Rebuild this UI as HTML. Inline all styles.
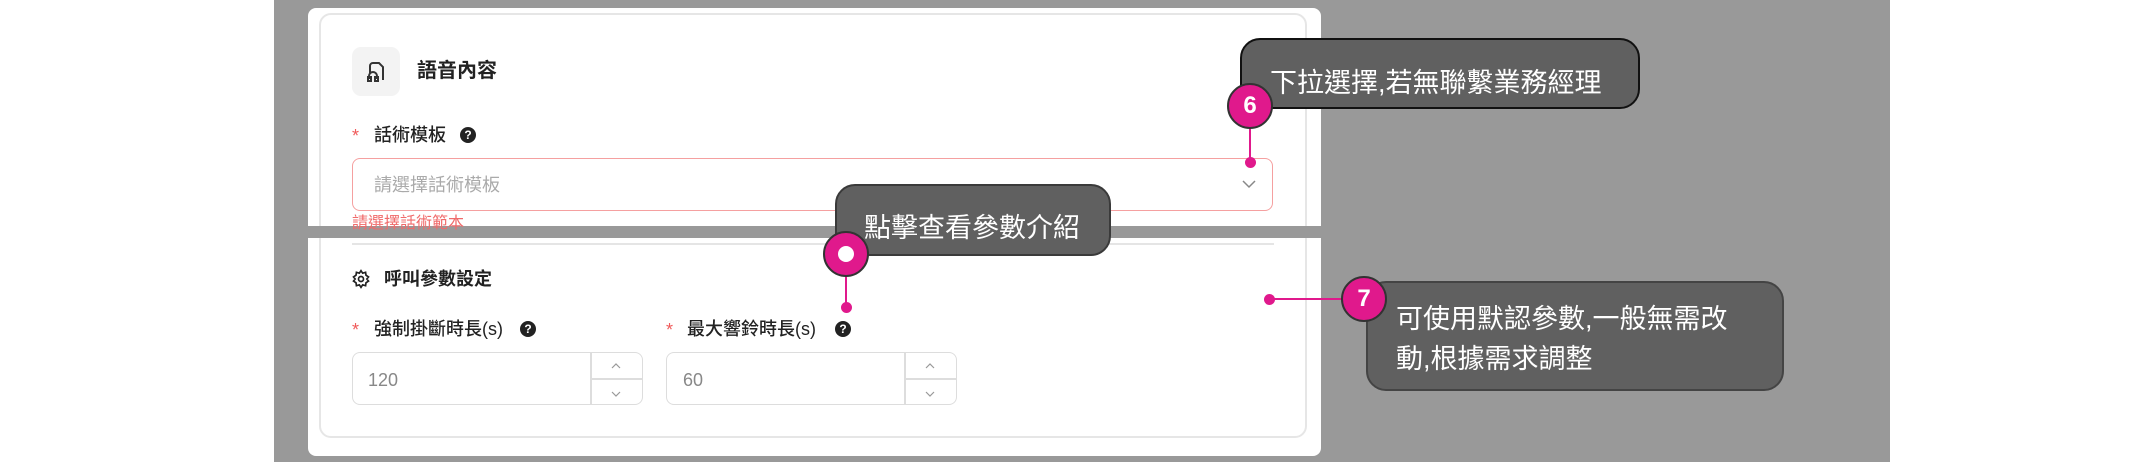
<!DOCTYPE html>
<html><head><meta charset="utf-8"><style>
*{margin:0;padding:0;box-sizing:border-box}
body{width:2148px;height:462px;position:relative;background:#fff;overflow:hidden;font-family:"Liberation Sans","Noto Sans CJK TC",sans-serif;color:#222}
.a{position:absolute}
.t{position:absolute;white-space:nowrap;line-height:1}
.q{position:absolute;width:16px;height:16px;border-radius:50%;background:#222;color:#fff;font-size:12px;font-weight:bold;text-align:center;line-height:16px}
.mk{position:absolute;width:46px;height:46px;border-radius:50%;background:#e0198c;border:2px solid #333;color:#fff;font-weight:bold;font-size:24px;text-align:center;line-height:42px}
.dot{position:absolute;width:11px;height:11px;border-radius:50%;background:#e0198c}
.tip{position:absolute;background:#606060;color:#fff;border-radius:20px;white-space:nowrap}
</style></head><body>
<div class="a" style="left:274px;top:0;width:1616px;height:462px;background:#999"></div>
<!-- white panels -->
<div class="a" style="left:308px;top:8px;width:1013px;height:218px;background:#fff;border-radius:8px 8px 0 0"></div>
<div class="a" style="left:308px;top:238px;width:1013px;height:218px;background:#fff;border-radius:0 0 8px 8px"></div>
<div class="a" style="left:319px;top:13px;width:988px;height:425px;border:2px solid #e6e6e6;border-radius:12px"></div>
<!-- top content -->
<div class="a" style="left:352px;top:47px;width:48px;height:49px;background:#f3f3f3;border-radius:9px"></div>
<svg class="a" style="left:364px;top:60px" width="24" height="24" viewBox="0 0 24 24" fill="none" stroke="#333" stroke-width="2"><path d="M6 13V6a3 3 0 0 1 3-3h6l4 4v13"/><path d="M5 19v-3a4 4 0 0 1 8 0v3"/><rect x="4" y="17" width="3" height="4"/><rect x="11" y="17" width="3" height="4"/></svg>
<div class="t" style="left:417px;top:61px;font-size:20px;font-weight:bold">語音內容</div>
<div class="t" style="left:352px;top:127px;font-size:18px;color:#f05a5a">*</div>
<div class="t" style="left:374px;top:126px;font-size:18px;font-weight:500">話術模板</div>
<div class="q" style="left:460px;top:127px">?</div>
<div class="a" style="left:352px;top:158px;width:921px;height:53px;border:1.5px solid #f5a0a0;border-radius:8px;background:#fff"></div>
<div class="t" style="left:374px;top:176px;font-size:18px;color:#aaa">請選擇話術模板</div>
<svg class="a" style="left:1241px;top:178px" width="16" height="12"><path d="M2 3l6 6 6-6" fill="none" stroke="#888" stroke-width="1.5"/></svg>
<div class="a" style="left:308px;top:226px;width:1013px;height:12px;background:#999"></div>
<div class="t" style="left:352px;top:216px;font-size:16px;color:#f06a6a">請選擇話術範本</div>
<!-- bottom content -->
<div class="a" style="left:352px;top:243px;width:922px;height:2px;background:#e5e5e5"></div>
<svg class="a" style="left:351px;top:269px" width="20" height="20" viewBox="0 0 24 24" fill="none" stroke="#222" stroke-width="2"><circle cx="12" cy="12" r="3"/><path d="M12 2l2 3 3.5-1 .5 3.5 3 2-2 2.5 2 2.5-3 2-.5 3.5-3.5-1-2 3-2-3-3.5 1-.5-3.5-3-2 2-2.5-2-2.5 3-2 .5-3.5 3.5 1z"/></svg>
<div class="t" style="left:384px;top:270px;font-size:18px;font-weight:bold">呼叫參數設定</div>
<div class="t" style="left:352px;top:321px;font-size:18px;color:#f05a5a">*</div>
<div class="t" style="left:374px;top:320px;font-size:18px;font-weight:500">強制掛斷時長(s)</div>
<div class="q" style="left:520px;top:321px">?</div>
<div class="t" style="left:666px;top:321px;font-size:18px;color:#f05a5a">*</div>
<div class="t" style="left:687px;top:320px;font-size:18px;font-weight:500">最大響鈴時長(s)</div>
<div class="q" style="left:835px;top:321px">?</div>
<div class="a" style="left:352px;top:352px;width:291px;height:53px;border:1.5px solid #ddd;border-radius:8px"></div>
<div class="a" style="left:590px;top:352px;width:1.5px;height:53px;background:#ddd"></div>
<div class="a" style="left:590px;top:378px;width:53px;height:1.5px;background:#ddd"></div>
<div class="t" style="left:368px;top:371px;font-size:18px;color:#888">120</div>
<div class="a" style="left:666px;top:352px;width:291px;height:53px;border:1.5px solid #ddd;border-radius:8px"></div>
<div class="a" style="left:904px;top:352px;width:1.5px;height:53px;background:#ddd"></div>
<div class="a" style="left:904px;top:378px;width:53px;height:1.5px;background:#ddd"></div>
<div class="t" style="left:683px;top:371px;font-size:18px;color:#888">60</div>
<svg class="a" style="left:609px;top:360px" width="14" height="40"><path d="M3 8l4-4 4 4M3 32l4 4 4-4" fill="none" stroke="#999" stroke-width="1.2"/></svg>
<svg class="a" style="left:923px;top:360px" width="14" height="40"><path d="M3 8l4-4 4 4M3 32l4 4 4-4" fill="none" stroke="#999" stroke-width="1.2"/></svg>
<!-- annotations -->
<div class="tip" style="left:835px;top:184px;width:276px;height:72px;border:2px solid #3a3a3a;font-size:27px;padding:20px 0 0 27px">點擊查看參數介紹</div>
<div class="a" style="left:845px;top:270px;width:2px;height:38px;background:#e0198c"></div>
<div class="dot" style="left:841px;top:302px"></div>
<div class="mk" style="left:823px;top:231px"><div style="width:16px;height:16px;border-radius:50%;background:#fff;margin:13px auto 0"></div></div>

<div class="tip" style="left:1240px;top:38px;width:400px;height:71px;border:2px solid #111;font-size:27px;padding:21px 0 0 28px">下拉選擇,若無聯繫業務經理</div>
<div class="a" style="left:1249px;top:126px;width:2px;height:36px;background:#e0198c"></div>
<div class="dot" style="left:1245px;top:157px"></div>
<div class="mk" style="left:1227px;top:83px">6</div>

<div class="tip" style="left:1366px;top:281px;width:418px;height:110px;border:2px solid #444;font-size:27px;line-height:40px;padding:16px 0 0 28px;white-space:normal">可使用默認參數,一般無需改<br>動,根據需求調整</div>
<div class="a" style="left:1269px;top:298px;width:90px;height:2px;background:#e0198c"></div>
<div class="dot" style="left:1264px;top:294px"></div>
<div class="mk" style="left:1341px;top:276px">7</div>
</body></html>
